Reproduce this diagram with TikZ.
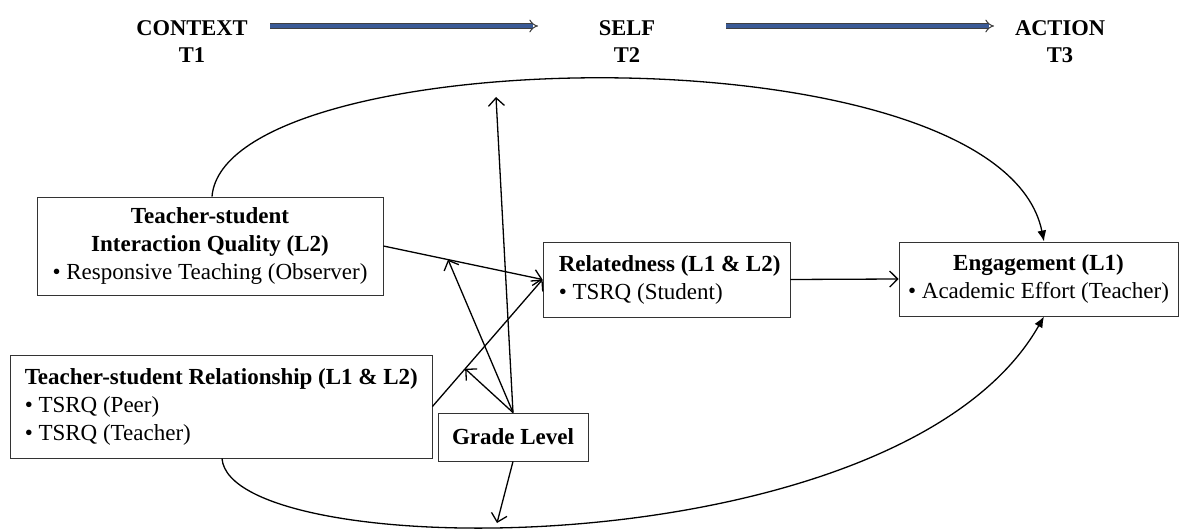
\documentclass[tikz,border=0pt]{standalone}
\usepackage{fontspec}
\setmainfont{Liberation Serif}
\usetikzlibrary{arrows.meta,calc}
\definecolor{tblue}{HTML}{3A5A96}
\begin{document}
\begin{tikzpicture}[x=1pt,y=-1pt,
  box/.style={draw=black!80, line width=0.9pt, inner sep=0pt},
  txt/.style={inner sep=0pt, font=\fontsize{23}{28}\selectfont},
  hd/.style={font=\bfseries\fontsize{22.5}{27}\selectfont, align=center, inner sep=0pt},
  arr/.style={line width=1.3pt, -{Straight Barb[length=8pt,width=16pt,line width=1.3pt]}},
  carr/.style={line width=1.3pt, -{Latex[length=11pt,width=9pt]}},
  tarr/.style={double=tblue, double distance=3.5pt, line width=1pt, draw=black!75, -{Implies}}]
\useasboundingbox (0,0) rectangle (1181,529);
\fill[white] (0,0) rectangle (1181,529);
% headings
\node[hd] (ctx) at (192,42) {CONTEXT\\T1};
\node[hd] (slf) at (627,42) {SELF\\T2};
\node[hd] (act) at (1060,42) {ACTION\\T3};
\coordinate (a1s) at (270,26);
\coordinate (a1e) at (538,26);
\coordinate (a2s) at (726,26);
\coordinate (a2e) at (994,26);
\draw[tarr] (a1s) -- (a1e);
\draw[tarr] (a2s) -- (a2e);
% boxes
\node[box, txt, minimum width=346pt, minimum height=98pt, align=center] (iq) at (210,246)
  {\textbf{Teacher-student}\\\textbf{Interaction Quality (L2)}\\\textbullet\ Responsive Teaching (Observer)};
\node[box, minimum width=422pt, minimum height=103pt] (tsr) at (221,406.5) {};
\node[txt, align=left, anchor=west] (tsrtext) at ([xshift=15pt]tsr.west)
  {\textbf{Teacher-student Relationship (L1 \& L2)}\\\textbullet\ TSRQ (Peer)\\\textbullet\ TSRQ (Teacher)};
\node[box, minimum width=247pt, minimum height=75pt] (rel) at (666.5,279.5) {};
\node[txt, align=left, anchor=west] (reltext) at ([xshift=16pt]rel.west)
  {\textbf{Relatedness (L1 \& L2)}\\\textbullet\ TSRQ (Student)};
\node[box, txt, minimum width=279pt, minimum height=74pt, align=center] (eng) at (1038.5,279)
  {\textbf{Engagement (L1)}\\\textbullet\ Academic Effort (Teacher)};
\node[box, txt, minimum width=150pt, minimum height=48pt, font=\bfseries\fontsize{23}{28}\selectfont] (gl) at (513,437) {Grade Level};
% connectors
\draw[arr] (iq.east) -- (rel.west);
\draw[arr] (tsr.east) -- (rel.west);
\draw[arr] (rel.east) -- (eng.west);
\path (iq.east) -- (rel.west) coordinate[pos=0.406] (m1);
\path (tsr.east) -- (rel.west) coordinate[pos=0.297] (m2);
\draw[arr] (gl.north) -- (m1);
\draw[arr] (gl.north) -- (m2);
\coordinate (topend) at (496,97);
\coordinate (botend) at (497,523);
\draw[arr] (gl.north) -- (topend);
\draw[arr] (gl.south) -- (botend);
\draw[carr] ([xshift=2pt]iq.north) .. controls (225,40) and (1000,25) .. ([xshift=5.5pt]eng.north);
\draw[carr] ([xshift=1pt]tsr.south) .. controls (230,565) and (900,570) .. ([xshift=5.5pt]eng.south);
\end{tikzpicture}
\end{document}
